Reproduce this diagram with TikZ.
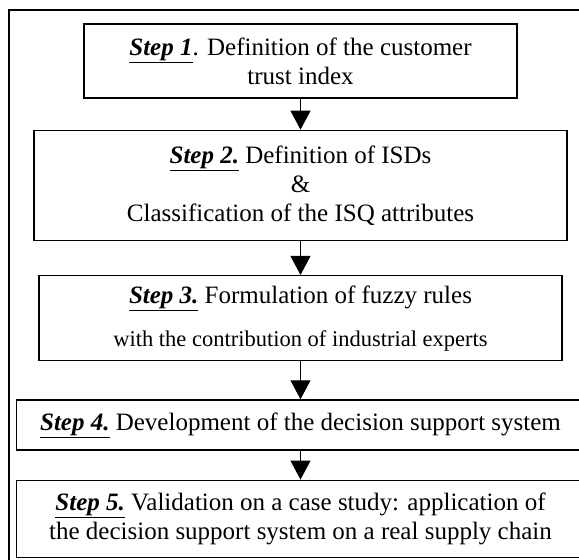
\documentclass[tikz,border=0pt]{standalone}
\usepackage{fontspec}
\setmainfont{Liberation Serif}
\usetikzlibrary{arrows.meta,positioning}
\newcommand{\steplab}[1]{\underline{\textbf{\textit{#1}}}}
\tikzset{
  box/.style={draw,line width=1.3pt,align=center,inner sep=0pt,font=\fontsize{25}{29}\selectfont},
  ar/.style={-{Triangle[width=20pt,length=19pt]},line width=1.2pt},
  frm/.style={line width=1.3pt}
}
\begin{document}
\begin{tikzpicture}[x=1pt,y=-1pt]
\useasboundingbox (0,0) rectangle (579,560);
\draw[frm] (9,10) rectangle (591,575);
\node[box,minimum width=433pt,minimum height=74pt] (s1) at (300.5,61)
  {\steplab{Step 1}. Definition of the customer\\trust index};
\node[box,minimum width=533pt,minimum height=110pt,below=31pt of s1] (s2)
  {\steplab{Step 2.} Definition of ISDs\\\&\\Classification of the ISQ attributes};
\node[box,minimum width=523pt,minimum height=85pt,below=34pt of s2] (s3)
  {\steplab{Step 3.} Formulation of fuzzy rules\\[14pt]{\fontsize{22.5}{27}\selectfont with the contribution of industrial experts}};
\node[box,minimum width=568pt,minimum height=50pt,below=38pt of s3] (s4)
  {\steplab{Step 4.} Development of the decision support system};
\node[box,minimum width=568pt,minimum height=77pt,below=29pt of s4] (s5)
  {\steplab{Step 5.} Validation on a case study: application of\\the decision support system on a real supply chain};
\draw[ar] (s1) -- (s2);
\draw[ar] (s2) -- (s3);
\draw[ar] (s3) -- (s4);
\draw[ar] (s4) -- (s5);
\end{tikzpicture}
\end{document}
